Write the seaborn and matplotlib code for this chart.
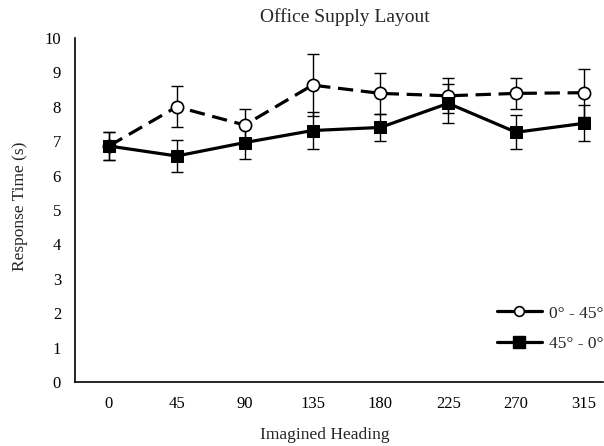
import matplotlib
matplotlib.use("Agg")
import matplotlib.pyplot as plt
import seaborn as sns
import pandas as pd
import numpy as np
from matplotlib.lines import Line2D

headings = ["0", "45", "90", "135", "180", "225", "270", "315"]
series_a_name = "0° - 45°"
series_b_name = "45° - 0°"
series_a = [6.86, 8.00, 7.47, 8.63, 8.39, 8.32, 8.39, 8.41]
series_a_err = [0.40, 0.60, 0.47, 0.90, 0.60, 0.51, 0.44, 0.70]
series_b = [6.86, 6.57, 6.96, 7.31, 7.40, 8.10, 7.26, 7.52]
series_b_err = [0.41, 0.47, 0.49, 0.53, 0.40, 0.56, 0.50, 0.52]

sns.set_theme(style="white")
plt.rcParams['font.family'] = ['Liberation Serif', 'DejaVu Serif']

pos = np.arange(len(headings))
df = pd.DataFrame({
    "pos": np.concatenate([pos, pos]),
    "rt": series_a + series_b,
    "err": series_a_err + series_b_err,
    "cond": [series_a_name] * len(pos) + [series_b_name] * len(pos),
})

fig = plt.figure(figsize=(6.04, 4.46), dpi=100)
ax = fig.add_axes([75/604, 1-382/446, (603-75)/604, (382-38)/446])

DASH = (4.8, 2.4)

for name, z in [(series_b_name, 2), (series_a_name, 3)]:
    sub = df[df.cond == name]
    ax.errorbar(sub.pos, sub.rt, yerr=sub.err, fmt="none", ecolor="black",
                elinewidth=1.0, capsize=4, capthick=1.0, zorder=z)

sns.lineplot(data=df, x="pos", y="rt", hue="cond", style="cond",
             palette={series_a_name: "black", series_b_name: "black"},
             dashes={series_a_name: DASH, series_b_name: ""},
             markers={series_a_name: "o", series_b_name: "s"},
             markersize=9, linewidth=2.3, ax=ax, legend=False, zorder=4)
for ln in ax.get_lines():
    if ln.get_marker() == "o":
        ln.set_markerfacecolor("white")
        ln.set_markeredgecolor("black")
        ln.set_markeredgewidth(1.2)
        ln.set_markersize(8.8)
        ln.set_zorder(4)
    elif ln.get_marker() == "s":
        ln.set_markerfacecolor("black")
        ln.set_markeredgecolor("black")
        ln.set_markersize(9.2)
        ln.set_zorder(5)

h_a = Line2D([], [], color="black", linestyle="-", linewidth=2.3,
             marker="o", markersize=7, markerfacecolor="white", markeredgecolor="black",
             markeredgewidth=1.2)
h_b = Line2D([], [], color="black", linestyle="-", linewidth=2.3,
             marker="s", markersize=8.5, markerfacecolor="black", markeredgecolor="black")
ax.legend([h_a, h_b], [series_a_name, series_b_name], loc="lower right",
          bbox_to_anchor=(1.03, 0.041), frameon=False, fontsize=12.5,
          handlelength=2.6, handletextpad=0.4, labelspacing=0.84)

ax.set_xlim(-0.5, 7.28)
ax.set_ylim(0, 10)
ax.set_xticks(pos)
ax.set_xticklabels(headings)
ax.set_yticks(range(0, 11))
ax.tick_params(axis="x", length=0, labelsize=12, colors="black", pad=10)
ax.tick_params(axis="y", length=0, labelsize=12, colors="black", pad=10)
for s in ["top", "right"]:
    ax.spines[s].set_visible(False)
for s in ["left", "bottom"]:
    ax.spines[s].set_color("black")
    ax.spines[s].set_linewidth(1.2)
ax.set_xlabel("")
ax.set_ylabel("")
fig.text(20/604, 1-206/446, "Response Time (s)", fontsize=12.5, rotation=90,
         ha="center", va="center")
fig.text(325/604, 1-435/446, "Imagined Heading", fontsize=12.5, ha="center", va="center")
fig.text(345/604, 1-17/446, "Office Supply Layout", fontsize=14, ha="center", va="center")

fig.savefig("out.png", dpi=100)
